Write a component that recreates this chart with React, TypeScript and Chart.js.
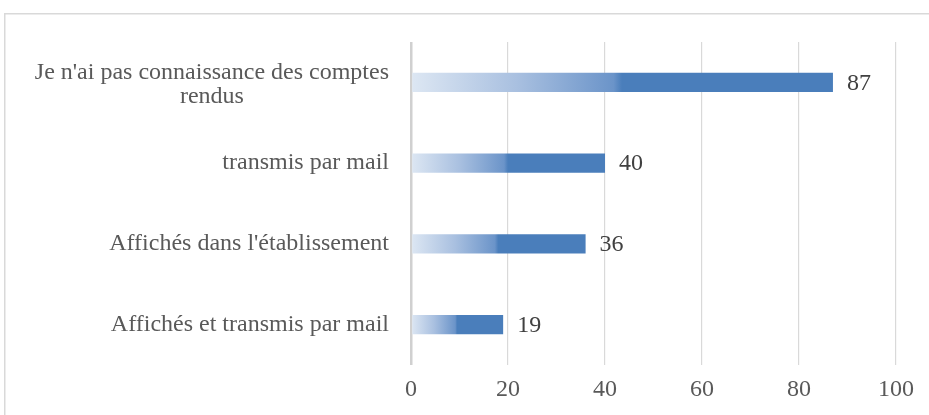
import React, { useEffect, useRef } from "react";
import { Chart, registerables } from "chart.js";

Chart.register(...registerables);

const categories: (string | string[])[] = [
  ["Je n'ai pas connaissance des comptes", "rendus"],
  "transmis par mail",
  "Affichés dans l'établissement",
  "Affichés et transmis par mail",
];
const values: number[] = [87, 40, 36, 19];
const xMin = 0;
const xMax = 100;
const xStep = 20;

const FONT = "'Liberation Serif', 'Times New Roman', serif";
const FONT_SIZE = 24;
const TEXT = "#595959";
const SOLID = "#4a7ebb";

const borderPlugin = {
  id: "outerBorder",
  beforeDraw(chart: any) {
    const c = chart.ctx;
    c.save();
    c.fillStyle = "#ffffff";
    c.fillRect(0, 0, chart.width, chart.height);
    c.strokeStyle = "#d9d9d9";
    c.lineWidth = 1.5;
    c.strokeRect(4.75, 13.75, chart.width + 50, chart.height + 50);
    c.restore();
  },
};

const yLabelPlugin = {
  id: "yLabels",
  afterDraw(chart: any) {
    const y = chart.scales.y;
    const c = chart.ctx;
    const right = chart.chartArea.left - 22;
    const lh = 24;
    c.save();
    c.font = `${FONT_SIZE}px ${FONT}`;
    c.fillStyle = TEXT;
    c.textBaseline = "middle";
    categories.forEach((lab, i) => {
      const cy = y.getPixelForTick(i);
      const lines = Array.isArray(lab) ? lab : [lab];
      const widths = lines.map((l) => c.measureText(l).width);
      const maxW = Math.max(...widths);
      const cx = right - maxW / 2;
      const startY = cy - ((lines.length - 1) * lh) / 2 + (lines.length > 1 ? 2 : 0);
      lines.forEach((l, k) => {
        if (lines.length > 1) {
          c.textAlign = "center";
          c.fillText(l, cx, startY + k * lh);
        } else {
          c.textAlign = "right";
          c.fillText(l, right, startY + k * lh);
        }
      });
    });
    c.restore();
  },
};

const valueLabelPlugin = {
  id: "valueLabels",
  afterDatasetsDraw(chart: any) {
    const meta = chart.getDatasetMeta(0);
    const c = chart.ctx;
    c.save();
    c.font = `${FONT_SIZE}px ${FONT}`;
    c.fillStyle = "#404040";
    c.textAlign = "left";
    c.textBaseline = "middle";
    meta.data.forEach((el: any, i: number) => {
      c.fillText(String(values[i]), el.x + 14, el.y + 1);
    });
    c.restore();
  },
};

export default function App() {
  const ref = useRef<HTMLCanvasElement | null>(null);
  useEffect(() => {
    document.body.style.margin = "0";
    if (!ref.current) return;
    const chart = new Chart(ref.current, {
      type: "bar",
      data: {
        labels: categories as any,
        datasets: [
          {
            data: values,
            barPercentage: 0.24,
            categoryPercentage: 1,
            borderWidth: 0,
            backgroundColor: (ctx: any) => {
              const ch = ctx.chart;
              const xs = ch.scales && ch.scales.x;
              if (!xs || ctx.type !== "data") return SOLID;
              const v = ctx.parsed ? ctx.parsed.x : ctx.raw;
              const x0 = xs.getPixelForValue(0);
              const x1 = xs.getPixelForValue(v);
              if (!isFinite(x0) || !isFinite(x1) || x1 <= x0) return SOLID;
              const g = ch.ctx.createLinearGradient(x0, 0, x1, 0);
              g.addColorStop(0, "#dde7f3");
              g.addColorStop(0.25, "#a9c0e0");
              g.addColorStop(0.48, "#6b94c9");
              g.addColorStop(0.5, SOLID);
              g.addColorStop(1, SOLID);
              return g;
            },
          },
        ],
      },
      options: {
        indexAxis: "y",
        animation: false,
        responsive: false,
        maintainAspectRatio: false,
        layout: { padding: { top: 42, right: 33, left: 0, bottom: 0 } },
        plugins: {
          legend: { display: false },
          tooltip: { enabled: false },
          title: { display: false },
        },
        scales: {
          x: {
            min: xMin,
            max: xMax,
            ticks: {
              stepSize: xStep,
              color: TEXT,
              font: { family: FONT, size: FONT_SIZE },
              padding: 10,
            },
            grid: {
              color: (c: any) => (c.tick && c.tick.value === 0 ? "#d0d0d0" : "#d9d9d9"),
              lineWidth: (c: any) => (c.tick && c.tick.value === 0 ? 2.5 : 1.2),
              drawTicks: false,
            },
            border: { display: false },
            afterFit: (s: any) => {
              s.height = 50;
            },
          },
          y: {
            type: "category",
            ticks: { display: false },
            grid: { display: false },
            border: { display: false },
            afterFit: (s: any) => {
              s.width = 411;
            },
          },
        },
      },
      plugins: [borderPlugin, yLabelPlugin, valueLabelPlugin],
    } as any);
    return () => chart.destroy();
  }, []);
  return (
    <canvas
      ref={ref}
      width={929}
      height={415}
      style={{ display: "block", width: 929, height: 415 }}
    />
  );
}
